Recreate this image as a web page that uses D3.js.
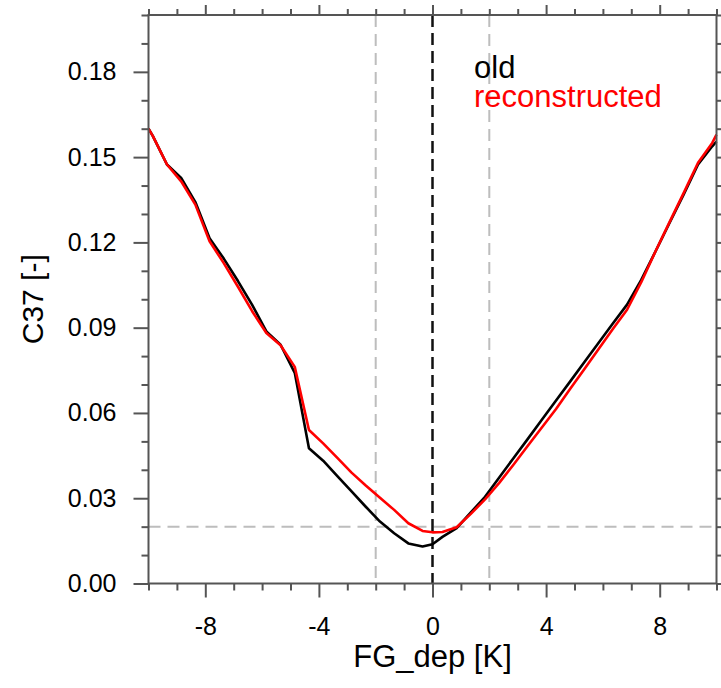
<!DOCTYPE html>
<html lang="en">
	<head>
		<meta charset="utf-8">
		<title>C37 vs FG_dep</title>
		<script type="text/javascript" src="https://cdn.jsdelivr.net/npm/d3@7"></script>
		<style type="text/css">
			body { margin: 0; background: #fff; }
			text { font-family: "Liberation Sans", Arial, Helvetica, sans-serif; }
		</style>
	</head>

	<body>
        <script type="text/javascript">

            // chart width and height
			var w = 721;
			var h = 688;
			var plotLeft = 148.5, plotRight = 716.5, plotTop = 15, plotBottom = 583.5;

            // first guess departure bins [K]
            var fgDep = [-10, -9.85, -9.35, -8.85, -8.35, -7.85, -7.35, -6.85, -6.35, -5.85, -5.35,
                         -4.85, -4.35, -3.85, -3.35, -2.85, -2.35, -1.85, -1.35, -0.85, -0.35, 0,
                         0.35, 0.85, 1.35, 1.85, 2.35, 2.85, 3.35, 3.85, 4.35, 4.85, 5.35, 5.85,
                         6.35, 6.85, 7.35, 7.85, 8.35, 8.85, 9.35, 9.85, 10];

            // C37 values
            var c37Old = [0.160, 0.1575, 0.1474, 0.1427, 0.1342, 0.1215, 0.1143, 0.1064, 0.0980, 0.0887, 0.0840,
                          0.0741, 0.0476, 0.0432, 0.0378, 0.0324, 0.0270, 0.0218, 0.0177, 0.0141, 0.0130, 0.0138,
                          0.0164, 0.0195, 0.0250, 0.0305, 0.0373, 0.0441, 0.0508, 0.0576, 0.0644, 0.0711, 0.0779, 0.0847,
                          0.0915, 0.0981, 0.1068, 0.1168, 0.1269, 0.1370, 0.1474, 0.1538, 0.1555];
            var c37Rec = [0.160, 0.1575, 0.1474, 0.1415, 0.1333, 0.1204, 0.1127, 0.1044, 0.0958, 0.0881, 0.0838,
                          0.0762, 0.0540, 0.0493, 0.0442, 0.0390, 0.0345, 0.0302, 0.0259, 0.0212, 0.0185, 0.0180,
                          0.0181, 0.0198, 0.0245, 0.0296, 0.0354, 0.0418, 0.0484, 0.0549, 0.0614, 0.0685, 0.0755, 0.0825,
                          0.0895, 0.0963, 0.1060, 0.1168, 0.1272, 0.1375, 0.1480, 0.1550, 0.1579];

            // reference lines
            var vRefGray = [-2, 2];
            var vRefBlack = [0];
            var hRefGray = [0.02];

            // ticks
            var xMajor = [-8, -4, 0, 4, 8];
            var yMajor = [0, 0.03, 0.06, 0.09, 0.12, 0.15, 0.18];
            var xMinor = d3.range(-10, 10.01, 1).filter(function(v){ return xMajor.indexOf(v) < 0; });
            var yMinor = d3.range(0, 21, 1).filter(function(v){ return v % 3 != 0; }).map(function(v){ return v / 100; });

            var legendNames = ["old", "reconstructed"];
            var legendColors = ["#000", "#ff0000"];

            var xScale = d3.scaleLinear().domain([-10, 10]).range([plotLeft, plotRight]);
            var yScale = d3.scaleLinear().domain([0, 0.2]).range([plotBottom, plotTop]);

            var svg = d3.select("body")
                        .append("svg")
                        .attr("width", w)
                        .attr("height", h);

            //reference lines
            svg.selectAll(".vgray")
               .data(vRefGray)
               .enter()
               .append("line")
               .attr("x1", function(d){ return xScale(d); })
               .attr("x2", function(d){ return xScale(d); })
               .attr("y1", plotTop).attr("y2", plotBottom)
               .attr("stroke", "#bdbdbd").attr("stroke-width", 2)
               .attr("stroke-dasharray", "12,7");

            svg.selectAll(".hgray")
               .data(hRefGray)
               .enter()
               .append("line")
               .attr("y1", function(d){ return yScale(d); })
               .attr("y2", function(d){ return yScale(d); })
               .attr("x1", plotLeft).attr("x2", plotRight)
               .attr("stroke", "#bdbdbd").attr("stroke-width", 2)
               .attr("stroke-dasharray", "12,7");

            svg.selectAll(".vblack")
               .data(vRefBlack)
               .enter()
               .append("line")
               .attr("x1", function(d){ return xScale(d); })
               .attr("x2", function(d){ return xScale(d); })
               .attr("y1", plotTop).attr("y2", plotBottom)
               .attr("stroke", "#111").attr("stroke-width", 2.5)
               .attr("stroke-dasharray", "12,6");

            //curves
            var line = d3.line()
                .x(function(d, i){ return xScale(fgDep[i]); })
                .y(function(d){ return yScale(d); });

            [c37Old, c37Rec].forEach(function(series, k){
                svg.append("path")
                   .datum(series)
                   .attr("d", line)
                   .attr("fill", "none")
                   .attr("stroke", legendColors[k])
                   .attr("stroke-width", 2.6)
                   .attr("stroke-linejoin", "round");
            });

            //axes, major and minor
            var axisColor = "#555";
            function drawAxis(axis, transform) {
                var g = svg.append("g")
                    .attr("transform", transform)
                    .call(axis);
                g.select(".domain").remove();
                g.selectAll(".tick line").attr("stroke", axisColor).attr("stroke-width", 2);
                g.selectAll(".tick text")
                    .attr("fill", "#000")
                    .style("font-size", "25px");
                return g;
            }

            var fmtX = function(d){ return d3.format("d")(d).replace("\u2212", "-"); };

            drawAxis(d3.axisBottom(xScale).tickValues(xMajor).tickSize(14).tickPadding(20).tickFormat(fmtX),
                     "translate(0," + plotBottom + ")");
            drawAxis(d3.axisBottom(xScale).tickValues(xMinor).tickSize(7).tickFormat(""),
                     "translate(0," + plotBottom + ")");
            drawAxis(d3.axisTop(xScale).tickValues(xMajor).tickSize(10).tickFormat(""),
                     "translate(0," + plotTop + ")");
            drawAxis(d3.axisTop(xScale).tickValues(xMinor).tickSize(6).tickFormat(""),
                     "translate(0," + plotTop + ")");

            drawAxis(d3.axisLeft(yScale).tickValues(yMajor).tickSize(15).tickPadding(17).tickFormat(d3.format(".2f")),
                     "translate(" + plotLeft + ",0)");
            drawAxis(d3.axisLeft(yScale).tickValues(yMinor).tickSize(7).tickFormat(""),
                     "translate(" + plotLeft + ",0)");
            drawAxis(d3.axisRight(yScale).tickValues(yMajor).tickSize(15).tickFormat(""),
                     "translate(" + plotRight + ",0)");
            drawAxis(d3.axisRight(yScale).tickValues(yMinor).tickSize(7).tickFormat(""),
                     "translate(" + plotRight + ",0)");

            //frame
            svg.append("rect")
               .attr("x", plotLeft).attr("y", plotTop)
               .attr("width", plotRight - plotLeft).attr("height", plotBottom - plotTop)
               .attr("fill", "none")
               .attr("stroke", axisColor)
               .attr("stroke-width", 2);

            //axis titles
            svg.append("text")
               .attr("x", (plotLeft + plotRight) / 2)
               .attr("y", 667)
               .attr("text-anchor", "middle")
               .style("font-size", "31px")
               .text("FG_dep [K]");

            svg.append("text")
               .attr("transform", "translate(43," + ((plotTop + plotBottom) / 2) + ") rotate(-90)")
               .attr("text-anchor", "middle")
               .style("font-size", "30px")
               .text("C37 [-]");

            //legend
            svg.selectAll(".legend")
               .data(legendNames)
               .enter()
               .append("text")
               .attr("x", 474)
               .attr("y", function(d, i){ return 78 + i * 29; })
               .attr("fill", function(d, i){ return legendColors[i]; })
               .style("font-size", "31px")
               .text(function(d){ return d; });

        </script>
	</body>
</html>
